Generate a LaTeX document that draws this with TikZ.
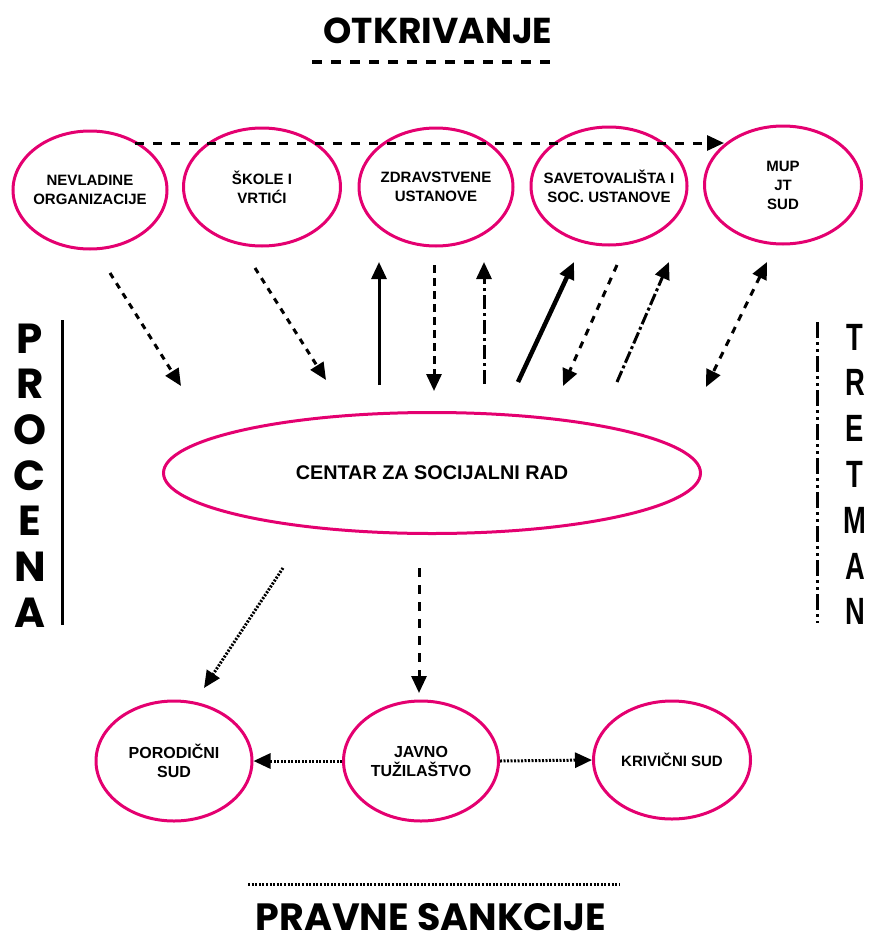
\documentclass[tikz,border=0pt]{standalone}
\usepackage{fontspec}
\setmainfont{Liberation Sans}
\newfontfamily\titlefont{Poppins}
\usetikzlibrary{arrows.meta,shapes.geometric}
\definecolor{pinkline}{RGB}{228,0,112}
\begin{document}
\begin{tikzpicture}[x=1pt,y=-1pt,
  ell/.style={ellipse,draw=pinkline,line width=3pt,inner sep=0pt},
  lbl/.style={font=\fontsize{15}{19}\selectfont\bfseries,align=center},
  tipend/.style={-{Triangle[length=17pt,width=15pt]}},
  tipboth/.style={{Triangle[length=17pt,width=15pt]}-{Triangle[length=17pt,width=15pt]}},
  conn/.style={line width=3pt,black},
  bigletter/.style={font=\titlefont\fontsize{42}{42}\selectfont\bfseries,anchor=base},
  narrowletter/.style={font=\fontsize{38}{38}\selectfont\bfseries,anchor=base},
]
\useasboundingbox (0,0) rectangle (868,945);

% titles
\node[font=\titlefont\fontsize{36}{36}\selectfont\bfseries,anchor=base] (otk) at (438,43) {OTKRIVANJE};
\coordinate (otkL) at (312,62);
\coordinate (otkR) at (558,62);
\draw[line width=4.5pt,dash pattern=on 10pt off 9pt] (otkL) -- (otkR);

\node[font=\titlefont\fontsize{38}{38}\selectfont\bfseries,anchor=base,inner sep=0pt] (prs) at (431,930) {PRAVNE SANKCIJE};
\coordinate (prsL) at (248,884);
\coordinate (prsR) at (620,884);
\draw[line width=3pt,dash pattern=on 2pt off 1.6pt] (prsL) -- (prsR);

% top row
\node[ell,minimum width=154,minimum height=118,label={[lbl]center:NEVLADINE\\ORGANIZACIJE}] (e1) at (90,190) {};
\node[ell,minimum width=157,minimum height=118,label={[lbl]center:ŠKOLE I\\VRTIĆI}] (e2) at (262,187) {};
\node[ell,minimum width=154,minimum height=118,label={[lbl]center:ZDRAVSTVENE\\USTANOVE}] (e3) at (436,187) {};
\node[ell,minimum width=156,minimum height=118,label={[lbl]center:SAVETOVALIŠTA I\\SOC. USTANOVE}] (e4) at (609,186) {};
\node[ell,minimum width=157,minimum height=118,label={[lbl]center:MUP\\JT\\SUD}] (e5) at (783,185) {};

% centre
\node[ell,minimum width=537,minimum height=121,label={[font=\fontsize{19.8}{22}\selectfont\bfseries]center:CENTAR ZA SOCIJALNI RAD}] (csr) at (432,473) {};

% bottom row
\node[ell,minimum width=156,minimum height=120,label={[lbl,font=\fontsize{16}{19}\selectfont\bfseries]center:PORODIČNI\\SUD}] (por) at (174,761) {};
\node[ell,minimum width=155,minimum height=120,label={[lbl,font=\fontsize{16}{19}\selectfont\bfseries]center:JAVNO\\TUŽILAŠTVO}] (jav) at (421,761) {};
\node[ell,minimum width=157,minimum height=118,label={[lbl]center:KRIVIČNI SUD}] (kri) at (672,760) {};

% top dashed arrow
\coordinate (t1) at (135,143);
\coordinate (t2) at (724,143);
\draw[conn,tipend,dash pattern=on 9pt off 9pt] (t1) -- (t2);

% arrows between top row and centre
\coordinate (a1s) at (110,273); \coordinate (a1e) at (181,386);
\coordinate (a2s) at (255,268); \coordinate (a2e) at (326,380);
\coordinate (a3s) at (379,385); \coordinate (a3e) at (379,262);
\coordinate (a4s) at (434,265); \coordinate (a4e) at (434,391);
\coordinate (a5s) at (484,384); \coordinate (a5e) at (484,262);
\coordinate (a6s) at (518,382); \coordinate (a6e) at (574,262);
\coordinate (a7s) at (617,265); \coordinate (a7e) at (563,386);
\coordinate (a8s) at (617,382); \coordinate (a8e) at (669,262);
\coordinate (a9s) at (767,262); \coordinate (a9e) at (706,387);

\draw[conn,tipend,dash pattern=on 6pt off 6pt] (a1s) -- (a1e);
\draw[conn,tipend,dash pattern=on 6pt off 6pt] (a2s) -- (a2e);
\draw[conn,tipend] (a3s) -- (a3e);
\draw[conn,tipend,dash pattern=on 8pt off 5pt] (a4s) -- (a4e);
\draw[conn,tipend,dash pattern=on 14pt off 4pt on 3pt off 4pt] (a5s) -- (a5e);
\draw[conn,line width=4.5pt,tipend] (a6s) -- (a6e);
\draw[conn,tipend,dash pattern=on 7pt off 7pt] (a7s) -- (a7e);
\draw[conn,tipend,dash pattern=on 12pt off 3pt on 3pt off 3pt] (a8s) -- (a8e);
\draw[conn,tipboth,dash pattern=on 7pt off 7pt] (a9s) -- (a9e);

% arrows from centre to bottom row
\coordinate (b1s) at (283,568); \coordinate (b1e) at (204,688);
\coordinate (b2s) at (419,568); \coordinate (b2e) at (419,693);
\draw[conn,tipend,dash pattern=on 2pt off 1.5pt] (b1s) -- (b1e);
\draw[conn,tipend,dash pattern=on 9pt off 8pt] (b2s) -- (b2e);
\draw[conn,tipend,dash pattern=on 2pt off 1.5pt] (jav.west) -- (por.east);
\draw[conn,tipend,dash pattern=on 2pt off 1.5pt] (jav.east) -- (kri.west);

% PROCENA
\foreach \l [count=\i from 0] in {P,R,O,C,E,N,A}{
  \node[bigletter] (pl\i) at (30,{353+45.7*\i}) {\l};
}
\coordinate (plT) at (62,320);
\coordinate (plB) at (62,625);
\draw[line width=3pt] (plT) -- (plB);

% TRETMAN
\foreach \l [count=\i from 0] in {T,R,E,T,M,A,N}{
  \node[narrowletter] (tl\i) at (855,{350+45.8*\i}) {\scalebox{0.72}[1]{\l}};
}
\coordinate (tlT) at (817,322);
\coordinate (tlB) at (817,623);
\draw[line width=3pt,dash pattern=on 16pt off 4pt on 3pt off 4pt on 3pt off 4pt] (tlT) -- (tlB);
\end{tikzpicture}
\end{document}
